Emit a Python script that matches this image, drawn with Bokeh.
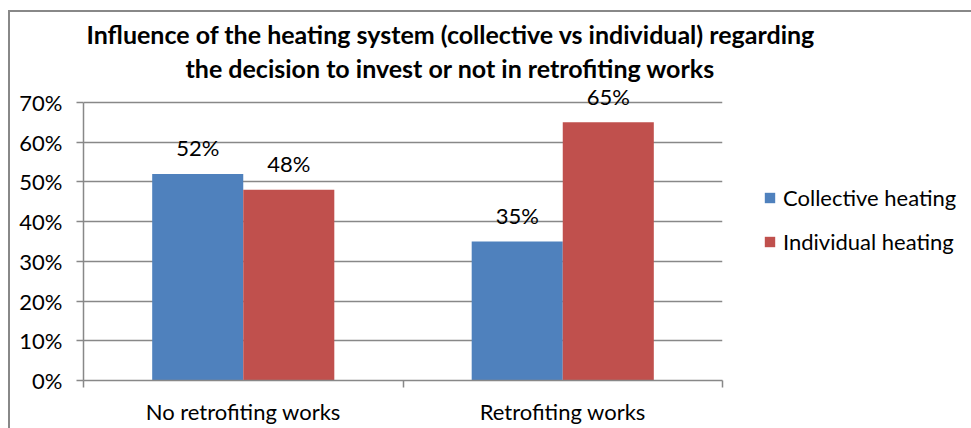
from bokeh.plotting import figure
from bokeh.models import (Range1d, FixedTicker, NumeralTickFormatter, Title, Legend,
                          LegendItem, ColumnDataSource, Label)
from bokeh.embed import file_html
from bokeh.resources import INLINE

# ---- data ----
categories = ["No retrofiting works", "Retrofiting works"]
series_names = ["Collective heating", "Individual heating"]
collective = [0.52, 0.35]
individual = [0.48, 0.65]
y_ticks = [0.0, 0.1, 0.2, 0.3, 0.4, 0.5, 0.6, 0.7]
title_lines = ["Influence of the heating system (collective vs individual) regarding",
               "the decision to invest or not in retrofiting works"]

# ---- style ----
FONT = "Lato"
FS = "22px"
BLUE = "#4F81BD"
RED = "#C0504D"
GRAY = "#888888"
BAR_W = 0.285
Y_TOP = 0.75   # headroom above the 70% axis end so data labels are not clipped

centers = [i + 0.5 for i in range(len(categories))]
bounds = [float(i) for i in range(len(categories) + 1)]

p = figure(frame_width=639, frame_height=298, output_backend="svg", toolbar_location=None,
           x_range=Range1d(0, len(categories)), y_range=Range1d(0, Y_TOP),
           min_border_left=73, min_border_right=249, min_border_top=70, min_border_bottom=48)
p.margin = (10, 0, 0, 8)
p.styles = {"border-left": "2px solid #888888", "border-top": "2px solid #888888"}
p.outline_line_color = None
p.background_fill_color = "white"
p.border_fill_color = "white"

x_c = [c - BAR_W / 2 for c in centers]
x_i = [c + BAR_W / 2 for c in centers]
src_c = ColumnDataSource(dict(x=x_c, top=collective))
src_i = ColumnDataSource(dict(x=x_i, top=individual))

r1 = p.vbar(x="x", top="top", width=BAR_W, source=src_c, fill_color=BLUE, line_color=None)
r2 = p.vbar(x="x", top="top", width=BAR_W, source=src_i, fill_color=RED, line_color=None)

# data labels
for xs, vals in ((x_c, collective), (x_i, individual)):
    for xv, v in zip(xs, vals):
        p.add_layout(Label(x=xv, y=v, text="{:.0f}%".format(v * 100), text_align="center",
                           text_baseline="middle", y_offset=26, text_font=FONT,
                           text_font_size=FS, text_color="black"))

# axes
p.xgrid.visible = False
p.ygrid.grid_line_color = GRAY
p.ygrid.grid_line_width = 1.5
p.ygrid.ticker = FixedTicker(ticks=y_ticks)

p.yaxis.ticker = FixedTicker(ticks=y_ticks)
p.yaxis.bounds = (y_ticks[0], y_ticks[-1])
p.yaxis.formatter = NumeralTickFormatter(format="0%")
p.yaxis.axis_line_color = GRAY
p.yaxis.axis_line_width = 1.5
p.yaxis.major_tick_line_color = GRAY
p.yaxis.major_tick_line_width = 1.5
p.yaxis.major_tick_out = 7
p.yaxis.major_tick_in = 0
p.yaxis.minor_tick_line_color = None
p.yaxis.major_label_standoff = 14
p.yaxis.major_label_text_font = FONT
p.yaxis.major_label_text_font_size = FS
p.yaxis.major_label_text_color = "black"

p.xaxis.ticker = FixedTicker(ticks=centers, minor_ticks=bounds)
p.xaxis.major_label_overrides = {c: name for c, name in zip(centers, categories)}
p.xaxis.axis_line_color = GRAY
p.xaxis.axis_line_width = 1.5
p.xaxis.major_tick_line_color = None
p.xaxis.major_tick_out = 0
p.xaxis.major_tick_in = 0
p.xaxis.minor_tick_line_color = GRAY
p.xaxis.minor_tick_line_width = 1.5
p.xaxis.minor_tick_out = 7
p.xaxis.minor_tick_in = 0
p.xaxis.major_label_standoff = 10
p.xaxis.major_label_text_font = FONT
p.xaxis.major_label_text_font_size = FS
p.xaxis.major_label_text_color = "black"

# title (second line first: it sits closest to the plot)
for text, off, so in ((title_lines[1], 102, 0), (title_lines[0], 3, 3)):
    p.add_layout(Title(text=text, align="left", offset=off, text_font=FONT,
                       text_font_size="25px", text_font_style="bold",
                       text_color="black", standoff=so), "above")

legend = Legend(items=[LegendItem(label=series_names[0], renderers=[r1]),
                       LegendItem(label=series_names[1], renderers=[r2])],
                location=(41, 125), orientation="vertical",
                glyph_width=13, glyph_height=13, label_standoff=7,
                label_height=22, spacing=17, padding=0, margin=0,
                label_text_font=FONT, label_text_font_size=FS,
                label_text_color="black", border_line_color=None,
                background_fill_alpha=0)
p.add_layout(legend, "right")

open("out.html", "w").write(file_html(p, INLINE))
